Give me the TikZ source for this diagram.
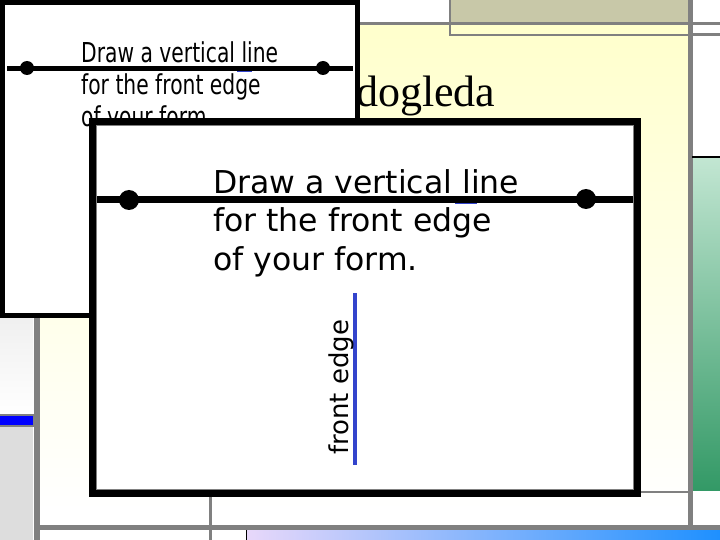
\documentclass[tikz,border=0pt]{standalone}
\usepackage{fontspec}
\setmainfont{Liberation Serif}
\setsansfont{DejaVu Sans}
\newfontfamily\squeezedfont[FakeStretch=0.74]{DejaVu Sans}
\definecolor{paleYellow}{HTML}{FFFFCC}
\definecolor{tanFill}{HTML}{C8C8A8}
\definecolor{lineGray}{HTML}{808080}
\definecolor{mintTop}{HTML}{C2E6D2}
\definecolor{greenBottom}{HTML}{339966}
\definecolor{lavender}{HTML}{E8D8FA}
\definecolor{barBlue}{HTML}{1E90FF}
\definecolor{stripGray}{HTML}{DDDDDD}
\definecolor{penBlue}{HTML}{3344CC}

\begin{document}
\begin{tikzpicture}[x = 1pt, y = -1pt, font=\sffamily]
	\tikzstyle{grayLine} = [draw = lineGray, line width = 3pt]
	\tikzstyle{frameStyle} = [draw = black, fill = white]
	\tikzstyle{backDot} = [shape = circle, fill = black, minimum size = 14pt, inner sep = 0pt]
	\tikzstyle{frontDot} = [shape = circle, fill = black, minimum size = 20pt, inner sep = 0pt]
	\tikzstyle{noteStyle} = [anchor = base west, align = left, inner sep = 0pt]
	\useasboundingbox (0,0) rectangle (720,540);
	\fill[white] (0,0) rectangle (720,540);
	\shade[top color = paleYellow, bottom color = white] (40,24) rectangle (688,510);
	\fill[white] (40,510) rectangle (688,527);
	\fill[tanFill] (450,0) rectangle (688,24);
	\draw[grayLine, line width = 2.5pt] (450,0) -- (450,35) -- (688,35);
	\draw[grayLine] (0,23.5) -- (720,23.5);
	\draw[grayLine] (688,34.5) -- (720,34.5);
	\draw[grayLine, line width = 5pt] (690,0) -- (690,527);
	\shade[top color = mintTop, bottom color = greenBottom] (693,158) rectangle (720,490);
	\draw[black, line width = 2pt] (692,157) -- (720,157);
	\draw[grayLine, line width = 2.5pt] (640,492) -- (690,492);
	\shade[top color = black!6, bottom color = white] (0,318) rectangle (33,415);
	\fill[stripGray] (0,426) rectangle (33,540);
	\draw[fill = blue, draw = lineGray, line width = 1.5pt] (-1,415) rectangle (34,426);
	\draw[grayLine, line width = 6pt] (36.5,318) -- (36.5,540);
	\draw[grayLine, line width = 5pt] (36,527.5) -- (720,527.5);
	\draw[grayLine] (210,497) -- (210,540);
	\shade[left color = lavender, right color = barBlue] (246,530) rectangle (720,540);
	\draw[black, line width = 1pt] (246,530) -- (246,540);
	\node[anchor = base west, inner sep = 0pt, font = \rmfamily\fontsize{44}{44}\selectfont] (title) at (356,107) {dogleda};
	\draw[frameStyle, line width = 5pt] (2.5,2.5) rectangle (357.5,315.5);
	\coordinate (bL) at (7,69);
	\coordinate (bR) at (353,69);
	\draw[line width = 5pt] (bL) -- (bR);
	\draw[penBlue, line width = 1.5pt] (237,71.5) -- (252,71.5);
	\node[backDot] (b0) at (27,68) {};
	\node[backDot] (b1) at (323,68) {};
	\node[noteStyle, font = \squeezedfont\fontsize{27.4}{32}\selectfont] (backNote) at (81,127) {Draw a vertical line\\for the front edge\\of your form.};
	\draw[frameStyle, line width = 7pt] (92.5,121.5) rectangle (637.5,493.5);
	\draw[lineGray, line width = 1.2pt] (96.5,125.5) rectangle (633.5,489.5);
	\coordinate (fL) at (97,200);
	\coordinate (fR) at (633,200);
	\draw[line width = 7pt] (fL) -- (fR);
	\draw[penBlue, line width = 1.5pt] (455,203.5) -- (477,203.5);
	\node[frontDot] (f0) at (129,200) {};
	\node[frontDot] (f1) at (586,199) {};
	\node[noteStyle, font = \sffamily\fontsize{31.5}{38.5}\selectfont] (frontNote) at (213,270) {Draw a vertical line\\for the front edge\\of your form.};
	\coordinate (eTop) at (355,293);
	\coordinate (eBot) at (355,465);
	\draw[penBlue, line width = 4pt] (eTop) -- (eBot);
	\node[anchor = base west, inner sep = 0pt, rotate = 90, font = \sffamily\fontsize{26}{26}\selectfont] (edgeLabel) at (348,455) {front edge};
\end{tikzpicture}
\end{document}
